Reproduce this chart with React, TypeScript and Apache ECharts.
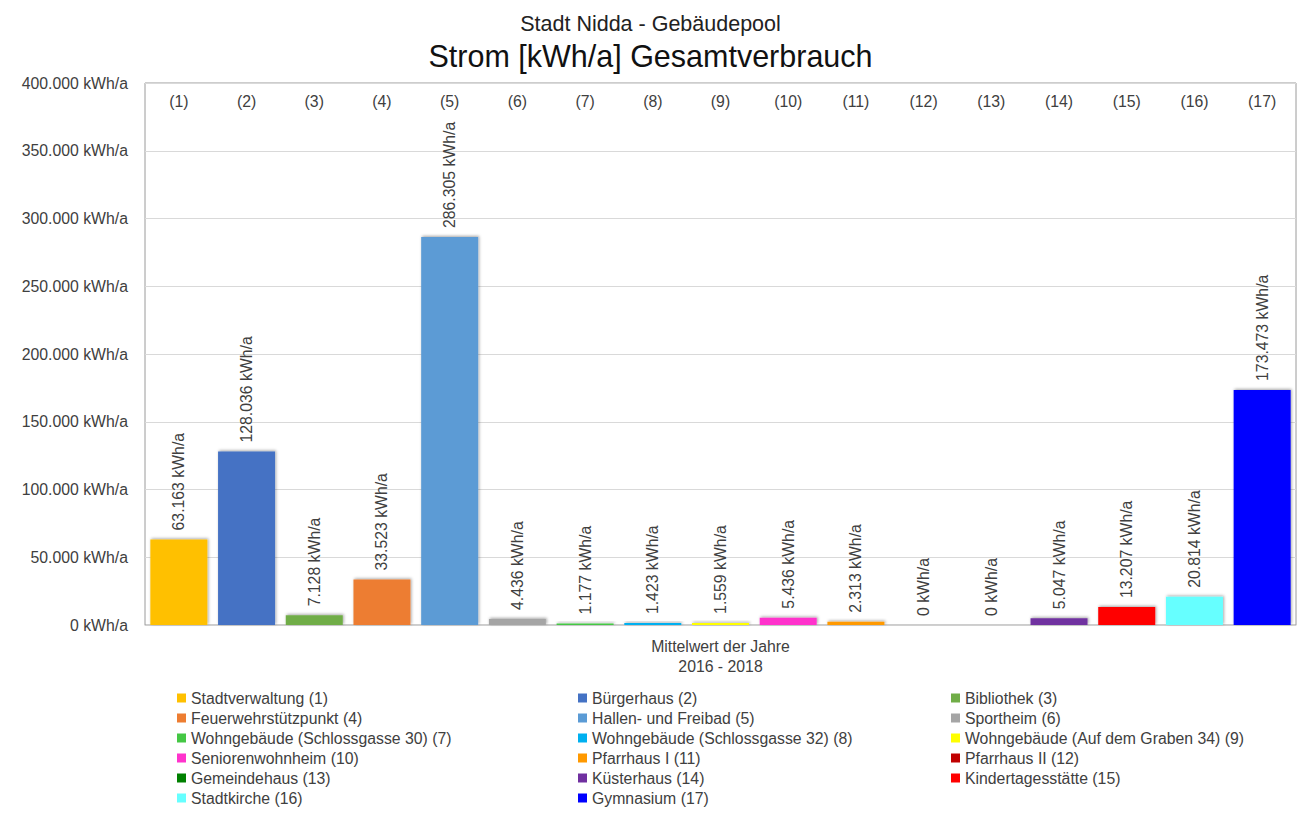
import React, { useEffect, useRef } from "react";
import * as echarts from "echarts";

// Buildings of the municipal pool, with their average annual electricity use
const buildings = [
  "Stadtverwaltung (1)",
  "Bürgerhaus (2)",
  "Bibliothek (3)",
  "Feuerwehrstützpunkt (4)",
  "Hallen- und Freibad (5)",
  "Sportheim (6)",
  "Wohngebäude (Schlossgasse 30) (7)",
  "Wohngebäude (Schlossgasse 32) (8)",
  "Wohngebäude (Auf dem Graben 34) (9)",
  "Seniorenwohnheim (10)",
  "Pfarrhaus I (11)",
  "Pfarrhaus II (12)",
  "Gemeindehaus (13)",
  "Küsterhaus (14)",
  "Kindertagesstätte (15)",
  "Stadtkirche (16)",
  "Gymnasium (17)",
];

const categoryTags = [
  "(1)", "(2)", "(3)", "(4)", "(5)", "(6)", "(7)", "(8)", "(9)",
  "(10)", "(11)", "(12)", "(13)", "(14)", "(15)", "(16)", "(17)",
];

const consumption = [
  63163, 128036, 7128, 33523, 286305, 4436, 1177, 1423, 1559,
  5436, 2313, 0, 0, 5047, 13207, 20814, 173473,
];

const colors = [
  "#FFC000", "#4472C4", "#70AD47", "#ED7D31", "#5B9BD5", "#A5A5A5",
  "#44C744", "#00B0F0", "#FFFF00", "#FF33CC", "#FF9900", "#C00000",
  "#008000", "#7030A0", "#FF0000", "#66FFFF", "#0000FF",
];

const yTicks = { min: 0, max: 400000, interval: 50000 };

const fmt = (n: number) =>
  Math.round(n).toString().replace(/\B(?=(\d{3})+(?!\d))/g, ".") + " kWh/a";

const FONT = "'Liberation Sans', Arial, sans-serif";
const TEXT = "#404040";
const FS = 15.8;

export default function App() {
  const ref = useRef<HTMLDivElement>(null);

  useEffect(() => {
    if (!ref.current) return;
    const chart = echarts.init(ref.current, undefined, { renderer: "svg" });

    // one series per building, all on one stack so each bar fills its own slot
    const series = buildings.map((name, i) => ({
      name,
      type: "bar",
      stack: "pool",
      xAxisIndex: 0,
      barWidth: 57,
      itemStyle: {
        color: colors[i],
        shadowColor: "rgba(0,0,0,0.35)",
        shadowBlur: 3,
        shadowOffsetX: 1,
        shadowOffsetY: -1,
      },
      label: {
        show: true,
        position: "top",
        rotate: 90,
        align: "left",
        verticalAlign: "middle",
        distance: 9,
        color: TEXT,
        fontSize: FS,
        fontFamily: FONT,
        formatter: (p: any) => fmt(Number(p.value)),
      },
      data: consumption.map((v, j) => (j === i ? v : "-")),
    }));

    // legend in three columns, filled row by row
    const legendCols = [0, 1, 2].map((c) => buildings.filter((_, i) => i % 3 === c));
    const legendLefts = [177, 578, 951];

    chart.setOption({
      animation: false,
      textStyle: { fontFamily: FONT },
      title: [
        {
          text: "Stadt Nidda - Gebäudepool",
          left: "center",
          top: 8,
          textStyle: { fontSize: 21.5, fontWeight: "normal", color: "#222", fontFamily: FONT },
        },
        {
          text: "Strom [kWh/a] Gesamtverbrauch",
          left: "center",
          top: 35,
          textStyle: { fontSize: 30.5, fontWeight: "normal", color: "#111", fontFamily: FONT },
        },
      ],
      legend: legendCols.map((col, c) => ({
        data: col,
        orient: "vertical",
        left: legendLefts[c],
        top: 688,
        height: 124,
        padding: 0,
        itemWidth: 9,
        itemHeight: 9,
        itemGap: 0,
        icon: "rect",
        selectedMode: false,
        textStyle: { fontSize: FS, lineHeight: 20, color: TEXT, fontFamily: FONT },
      })),
      grid: {
        left: 145,
        right: 5,
        top: 83,
        bottom: 189,
        show: true,
        borderColor: "#9a9a9a",
        borderWidth: 1,
      },
      xAxis: [
        {
          type: "category",
          data: categoryTags,
          position: "bottom",
          axisLine: { lineStyle: { color: "#d0d0d0" } },
          axisTick: { show: false },
          axisLabel: { show: false },
          name: "Mittelwert der Jahre\n2016 - 2018",
          nameLocation: "middle",
          nameGap: 11,
          nameTextStyle: { fontSize: FS, color: TEXT, lineHeight: 20, fontFamily: FONT },
        },
        {
          type: "category",
          data: categoryTags,
          position: "top",
          axisLine: { show: false },
          axisTick: { show: false },
          axisLabel: { inside: true, margin: 10, fontSize: FS, color: TEXT, fontFamily: FONT },
        },
      ],
      yAxis: {
        type: "value",
        min: yTicks.min,
        max: yTicks.max,
        interval: yTicks.interval,
        axisLine: { show: false },
        axisTick: { show: false },
        splitLine: { lineStyle: { color: "#d9d9d9" } },
        axisLabel: {
          margin: 17,
          fontSize: FS,
          color: TEXT,
          fontFamily: FONT,
          formatter: (v: number) => fmt(v),
        },
      },
      series,
    });

    return () => chart.dispose();
  }, []);

  return (
    <div
      ref={ref}
      style={{ position: "fixed", left: 0, top: 0, width: 1301, height: 814, background: "#fff" }}
    />
  );
}
